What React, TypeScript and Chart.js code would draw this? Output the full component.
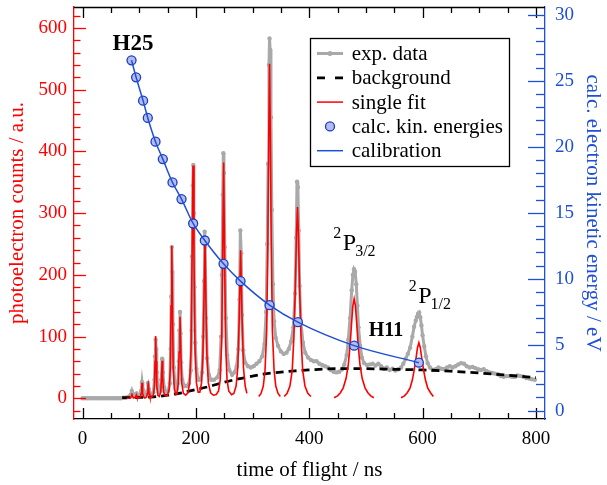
import React, { useEffect, useRef } from 'react';
import { Chart, registerables } from 'chart.js';

Chart.register(...registerables);

const SERIF = "'Liberation Serif', 'Times New Roman', Times, serif";
const RED = '#ff0000';
const BLUE = '#1f4fd8';
const GRAY = '#a9a9a9';
const CIRCLE_FILL = '#b3bcf0';
const CIRCLE_EDGE = '#1a3cc0';

// axis ranges and tick labels
const xRange = [-15, 816];
const countRange = [-33.5, 634];
const energyRange = [-0.63, 30.6];
const xTickLabels = [0, 200, 400, 600, 800];
const countTickLabels = [0, 100, 200, 300, 400, 500, 600];
const energyTickLabels = [0, 5, 10, 15, 20, 25, 30];

// experimental data: [time of flight (ns), counts]
const expData: [number, number][] = [
  [0, 0], [4, 0], [8, 0], [12, 0], [16, 0], [20, 0], [24, 0], [28, 0], [32, 0], [36, 0], [40, 0], [44, 0],
  [48, 0], [52, 0], [56, 0], [60, 0], [64, 0], [68, 0], [72, 1], [76, 1], [80, 2], [83, 3], [85, 6], [87, 12],
  [89, 5], [92, 4], [94, 7], [95.5, 8], [97, 4], [100, 4], [102, 6], [103.5, 12], [105, 26], [106.5, 14], [108, 6],
  [110, 5], [112, 6], [114, 11], [115.5, 25], [117, 15], [119, 7], [122, 7], [125, 10], [127, 30], [128, 68],
  [129, 95], [130, 80], [131, 42], [133, 16], [135, 10], [137, 12], [139, 30], [140.5, 64], [142, 42], [144, 18],
  [147, 11], [151, 12], [154, 24], [155.5, 80], [156.5, 165], [157.5, 245], [158.5, 205], [159.5, 120], [161, 50],
  [163, 25], [166, 16], [168, 24], [170, 60], [171, 110], [172, 140], [173, 105], [174, 58], [176, 30], [180, 20],
  [184, 20], [188, 24], [191, 45], [192.5, 110], [193.5, 230], [194.5, 345], [195.5, 378], [196.5, 300],
  [197.5, 180], [199, 90], [201, 48], [204, 30], [208, 30], [211, 42], [213, 100], [214.5, 190], [215.5, 270],
  [216.5, 245], [218, 130], [220, 65], [223, 38], [227, 30], [232, 30], [238, 34], [242, 46], [244.5, 100],
  [246, 200], [247.5, 330], [248.5, 397], [249.5, 365], [251, 245], [253, 130], [255.5, 70], [259, 46], [264, 38],
  [268, 42], [272, 52], [275, 80], [277, 160], [278.5, 272], [280, 235], [281.5, 135], [283.5, 78], [287, 58],
  [292, 52], [297, 50], [302, 52], [307, 56], [312, 60], [317, 68], [321, 88], [324, 140], [326, 250],
  [327.5, 380], [329, 540], [330, 583], [331, 565], [332.5, 455], [334, 305], [336, 185], [338, 125], [341, 98],
  [345, 85], [350, 76], [355, 72], [360, 74], [364, 80], [368, 92], [372, 115], [375, 170], [377, 260],
  [378.5, 351], [380, 342], [381.5, 272], [383, 182], [385.5, 122], [389, 90], [393, 74], [398, 66], [403, 62],
  [408, 60], [413, 60], [418, 56], [423, 54], [428, 52], [433, 50], [438, 46], [443, 43], [448, 42], [453, 43],
  [458, 47], [462, 55], [466, 70], [469, 95], [472, 130], [475, 175], [477, 200], [479, 209], [481, 205],
  [483, 185], [485, 150], [487, 115], [490, 85], [493, 66], [497, 57], [502, 54], [507, 55], [512, 56], [517, 53],
  [522, 56], [527, 52], [532, 48], [537, 50], [542, 46], [547, 48], [552, 45], [557, 47], [562, 50], [566, 56],
  [570, 64], [574, 72], [578, 82], [582, 100], [585, 116], [588, 126], [590, 132], [592, 137], [594, 139],
  [596, 131], [598, 118], [600, 102], [603, 84], [606, 68], [609, 57], [613, 50], [618, 46], [623, 47], [628, 50],
  [633, 48], [638, 47], [643, 50], [648, 52], [653, 50], [658, 52], [663, 55], [668, 57], [673, 56], [678, 52],
  [683, 50], [688, 51], [693, 49], [698, 47], [703, 46], [708, 47], [713, 44], [718, 42], [723, 41], [728, 40],
  [733, 39], [738, 36], [743, 35], [748, 36], [753, 36], [758, 35], [763, 35], [768, 37], [773, 36], [778, 35],
  [783, 33], [788, 32], [793, 31], [798, 30],
];

// background
const bgTime = [70, 100, 125, 150, 175, 200, 225, 250, 275, 300, 325, 350, 375, 400, 450, 500, 550, 600, 650, 700, 750, 800];
const bgCounts = [1, 1.5, 2.5, 5, 9, 14, 19.5, 26, 31.5, 36, 40, 42.5, 44.5, 46, 48, 48, 47, 46, 44, 41, 37.5, 33.5];

// single fits (separate segments)
const fitEarly: [number, number][] = [
  [78, 0], [84, 0], [86, 3], [87, 8], [88, 3], [90, 0.5], [94, 2], [95, 5], [96, 2], [99, 0.5], [102, 2],
  [103.5, 8], [104.5, 20], [105, 25], [105.5, 20], [106.5, 8], [108, 2], [110, 0.5], [113, 2], [114.5, 8],
  [115.5, 20], [116, 23], [116.5, 20], [117.5, 8], [119, 2], [122, 2], [125, 5], [127, 20], [128, 60], [129, 101],
  [130, 60], [131, 20], [133, 5], [135.5, 3], [138, 10], [139.5, 35], [140.5, 61], [141.5, 35], [143, 10], [146, 4],
  [150, 5], [153, 15], [155, 50], [156.3, 150], [157.5, 247], [158.7, 150], [160, 50], [162, 15], [165, 6],
  [167, 8], [169, 25], [170.5, 75], [172, 132], [173.5, 75], [175, 25], [178, 8], [182, 5], [186, 9], [189, 25],
  [191.5, 80], [193.3, 230], [195, 377], [196.7, 230], [198.5, 80], [201, 25], [204, 10], [207, 10], [210, 25],
  [212.5, 70], [214.3, 160], [216, 262], [217.7, 160], [219.5, 70], [222, 25], [226, 9], [231, 5], [236, 6],
  [240, 12], [243, 30], [245.5, 90], [247.2, 220], [249, 382], [250.8, 220], [252.5, 90], [255, 30], [258, 12],
  [263, 6], [267, 8], [271, 20], [274, 50], [276.5, 130], [279, 240], [281.5, 130], [284, 50], [287, 20], [290, 8],
];
const fit330: [number, number][] = [
  [311, 3], [315, 8], [319, 20], [322, 45], [325, 110], [327, 250], [328.5, 420], [330, 542], [331.5, 420],
  [333, 250], [335, 110], [338, 45], [341, 20], [345, 8], [349, 3],
];
const fit380: [number, number][] = [
  [356, 3], [361, 8], [366, 20], [370, 45], [373, 100], [375.5, 180], [377.5, 265], [379.3, 310], [381, 265],
  [383, 180], [385.5, 100], [388.5, 45], [392.5, 20], [397.5, 8], [403, 3],
];
const fit480: [number, number][] = [
  [444, 1], [450, 4], [455, 9], [460, 17], [465, 32], [469, 55], [472, 85], [475, 125], [477, 150], [479.3, 161],
  [481.5, 150], [483.5, 125], [486.5, 85], [489.5, 55], [493.5, 32], [498.5, 17], [503.5, 9], [508.5, 4], [514, 1],
];
const fit594: [number, number][] = [
  [562, 1], [568, 4], [573, 9], [578, 17], [582, 30], [585, 45], [588, 62], [591, 82], [593.5, 90], [596, 82],
  [599, 62], [602, 45], [605, 30], [609, 17], [614, 9], [619, 3],
];

// calculated kinetic energies
const calTime = [86.5, 94.6, 106.9, 115.2, 128.8, 141.7, 158.8, 174.7, 195.2, 215.8, 248.8, 278.8, 330, 380, 479.3, 593.4];
const calEnergy = [26.56, 25.27, 23.5, 22.19, 20.39, 19.07, 17.3, 16.04, 14.19, 12.9, 11.13, 9.82, 8.0, 6.71, 4.93, 3.64];

// legend entries
const legendLabels = ['exp. data', 'background', 'single fit', 'calc. kin. energies', 'calibration'];

// text annotations (data coordinates: left edge, baseline)
const boldLabels = [
  { text: 'H25', t: 53, c: 564, size: 23 },
  { text: 'H11', t: 505, c: 101, size: 20 },
];
const termLabels = [
  { sub: '3/2', t: 459.3, c: 240 },
  { sub: '1/2', t: 592.2, c: 154.5 },
];

const pairs = (arr: [number, number][]) => arr.map(([x, y]) => ({ x, y }));
const fixedTicks = (values: number[]) => (s: any) => { s.ticks = values.map((value) => ({ value })); };

const decorPlugin = {
  id: 'decor',
  afterDatasetsDraw(chart: any) {
    const { ctx, chartArea: a, scales } = chart;
    const sx = scales.x, sy = scales.y;
    ctx.save();
    ctx.lineWidth = 1.3;
    // top border
    ctx.strokeStyle = '#000';
    ctx.beginPath();
    ctx.moveTo(a.left, a.top + 0.5);
    ctx.lineTo(a.right, a.top + 0.5);
    ctx.stroke();
    // x ticks (bottom and top), inward
    for (let v = 0; v <= 800; v += 50) {
      const px = Math.round(sx.getPixelForValue(v)) + 0.5;
      const len = v % 200 === 0 ? 11 : 6;
      ctx.beginPath();
      ctx.moveTo(px, a.bottom);
      ctx.lineTo(px, a.bottom - len);
      ctx.moveTo(px, a.top);
      ctx.lineTo(px, a.top + len);
      ctx.stroke();
    }
    // left ticks
    ctx.strokeStyle = RED;
    for (let v = -20; v <= 620; v += 20) {
      const py = Math.round(sy.getPixelForValue(v)) + 0.5;
      const len = v % 100 === 0 ? 12 : 6.5;
      ctx.beginPath();
      ctx.moveTo(a.left, py);
      ctx.lineTo(a.left + len, py);
      ctx.stroke();
    }
    // right ticks
    ctx.strokeStyle = BLUE;
    const sy2 = scales.y2;
    for (let v = 0; v <= 30; v += 1) {
      const py = Math.round(sy2.getPixelForValue(v)) + 0.5;
      const len = v % 5 === 0 ? 17 : 9;
      ctx.beginPath();
      ctx.moveTo(a.right, py);
      ctx.lineTo(a.right - len, py);
      ctx.stroke();
    }

    // annotations
    ctx.fillStyle = '#000';
    ctx.textAlign = 'left';
    ctx.textBaseline = 'alphabetic';
    boldLabels.forEach((l) => {
      ctx.font = `bold ${l.size}px ${SERIF}`;
      ctx.fillText(l.text, sx.getPixelForValue(l.t), sy.getPixelForValue(l.c));
    });
    termLabels.forEach((l) => {
      const px = sx.getPixelForValue(l.t);
      const py = sy.getPixelForValue(l.c);
      ctx.font = `24px ${SERIF}`;
      const pw = ctx.measureText('P').width;
      ctx.fillText('P', px, py);
      ctx.font = `16px ${SERIF}`;
      const tw = ctx.measureText('2').width;
      ctx.fillText('2', px - tw - 1.5, py - 12);
      ctx.fillText(l.sub, px + pw - 1, py + 6);
    });

    // legend box
    const bx = 310, by = 38, bw = 199, bh = 128;
    ctx.fillStyle = '#fff';
    ctx.fillRect(bx, by, bw, bh);
    ctx.strokeStyle = '#000';
    ctx.lineWidth = 1.3;
    ctx.strokeRect(bx + 0.5, by + 0.5, bw, bh);
    const x0 = 317, x1 = 343, xm = 330;
    legendLabels.forEach((label, i) => {
      const ry = by + 15.5 + i * 24.3;
      ctx.setLineDash([]);
      if (i === 0) {
        ctx.strokeStyle = GRAY; ctx.lineWidth = 3;
        ctx.beginPath(); ctx.moveTo(x0, ry); ctx.lineTo(x1, ry); ctx.stroke();
        ctx.fillStyle = GRAY;
        ctx.beginPath(); ctx.arc(xm, ry, 2.5, 0, Math.PI * 2); ctx.fill();
      } else if (i === 1) {
        ctx.strokeStyle = '#000'; ctx.lineWidth = 2.8;
        ctx.beginPath(); ctx.moveTo(x0, ry); ctx.lineTo(x0 + 8, ry); ctx.moveTo(x1 - 8, ry); ctx.lineTo(x1, ry); ctx.stroke();
      } else if (i === 2) {
        ctx.strokeStyle = RED; ctx.lineWidth = 1.5;
        ctx.beginPath(); ctx.moveTo(x0, ry); ctx.lineTo(x1, ry); ctx.stroke();
      } else if (i === 3) {
        ctx.fillStyle = CIRCLE_FILL; ctx.strokeStyle = CIRCLE_EDGE; ctx.lineWidth = 1.3;
        ctx.beginPath(); ctx.arc(xm, ry, 4.5, 0, Math.PI * 2); ctx.fill(); ctx.stroke();
      } else {
        ctx.strokeStyle = BLUE; ctx.lineWidth = 1.5;
        ctx.beginPath(); ctx.moveTo(x0, ry); ctx.lineTo(x1, ry); ctx.stroke();
      }
      ctx.fillStyle = '#000';
      ctx.font = `21px ${SERIF}`;
      ctx.textBaseline = 'middle';
      ctx.fillText(label, 351.7, ry + 1);
    });
    ctx.restore();
  },
};

export default function App() {
  const ref = useRef<HTMLCanvasElement>(null);
  useEffect(() => {
    const canvas = ref.current;
    if (!canvas) return;
    Chart.defaults.font.family = SERIF;
    const gap = (x: number) => ({ x, y: null as any });
    const fitData = [
      ...pairs(fitEarly), gap(300),
      ...pairs(fit330), gap(352),
      ...pairs(fit380), gap(420),
      ...pairs(fit480), gap(540),
      ...pairs(fit594),
    ];
    const calData = calTime.map((x, i) => ({ x, y: calEnergy[i] }));
    const bgData = bgTime.map((x, i) => ({ x, y: bgCounts[i] }));

    const chart = new Chart(canvas, {
      type: 'line',
      data: {
        datasets: [
          {
            label: 'calibration', data: calData, yAxisID: 'y2', borderColor: BLUE, borderWidth: 1.5,
            pointRadius: 0, cubicInterpolationMode: 'monotone', order: 0,
          } as any,
          {
            label: 'calc. kin. energies', data: calData, yAxisID: 'y2', showLine: false, pointRadius: 4.5,
            pointBackgroundColor: CIRCLE_FILL, pointBorderColor: CIRCLE_EDGE, pointBorderWidth: 1.3, order: 1,
          },
          {
            label: 'single fit', data: fitData, yAxisID: 'y', borderColor: RED, borderWidth: 1.6, pointRadius: 0,
            spanGaps: false, tension: 0, order: 2,
          },
          {
            label: 'background', data: bgData, yAxisID: 'y', borderColor: '#000', borderWidth: 2.8,
            borderDash: [8, 5], pointRadius: 0, cubicInterpolationMode: 'monotone', order: 3,
          } as any,
          {
            label: 'exp. data', data: pairs(expData), yAxisID: 'y', borderColor: GRAY, borderWidth: 3,
            pointRadius: 2.2, pointBackgroundColor: GRAY, pointBorderWidth: 0, order: 4,
          },
        ],
      },
      options: {
        animation: false,
        responsive: false,
        maintainAspectRatio: false,
        events: [],
        layout: { padding: { top: 7, left: 0, right: 0, bottom: 0 } },
        plugins: { legend: { display: false }, tooltip: { enabled: false } },
        scales: {
          x: {
            type: 'linear', position: 'bottom', min: xRange[0], max: xRange[1],
            grid: { display: false, drawTicks: false },
            border: { display: true, color: '#000', width: 1.3 },
            ticks: {
              display: true, padding: 9, color: '#000',
              font: { size: 19, family: SERIF }, maxRotation: 0, minRotation: 0, autoSkip: false,
            },
            afterBuildTicks: fixedTicks(xTickLabels),
            title: { display: true, text: 'time of flight / ns', color: '#000', font: { size: 21, family: SERIF }, padding: { top: 0, bottom: 2.4 } },
            afterFit: (s: any) => { s.height = 66; s.paddingLeft = 0; s.paddingRight = 0; },
          },
          y: {
            type: 'linear', position: 'left', min: countRange[0], max: countRange[1],
            grid: { display: false, drawTicks: false },
            border: { display: true, color: RED, width: 1.3 },
            ticks: { padding: 7, color: RED, font: { size: 19, family: SERIF }, autoSkip: false },
            afterBuildTicks: fixedTicks(countTickLabels),
            title: { display: true, text: 'photoelectron counts / a.u.', color: RED, font: { size: 21, family: SERIF }, padding: { top: 5, bottom: 0 } },
            afterFit: (s: any) => { s.width = 74; s.paddingTop = 0; s.paddingBottom = 0; },
          },
          y2: {
            type: 'linear', position: 'right', min: energyRange[0], max: energyRange[1],
            grid: { display: false, drawTicks: false },
            border: { display: true, color: BLUE, width: 1.3 },
            ticks: { padding: 10, color: BLUE, font: { size: 19, family: SERIF }, autoSkip: false },
            afterBuildTicks: fixedTicks(energyTickLabels),
            title: { display: true, text: 'calc. electron kinetic energy / eV', color: BLUE, font: { size: 21, family: SERIF }, padding: { top: 1.4, bottom: 0 } },
            afterFit: (s: any) => { s.width = 62; s.paddingTop = 0; s.paddingBottom = 0; },
          },
        },
      } as any,
      plugins: [decorPlugin],
    });
    return () => chart.destroy();
  }, []);
  return (
    <div style={{ position: 'absolute', left: 0, top: 0, width: 607, height: 485, background: '#fff' }}>
      <canvas ref={ref} width={607} height={485} style={{ display: 'block', width: 607, height: 485 }} />
    </div>
  );
}
